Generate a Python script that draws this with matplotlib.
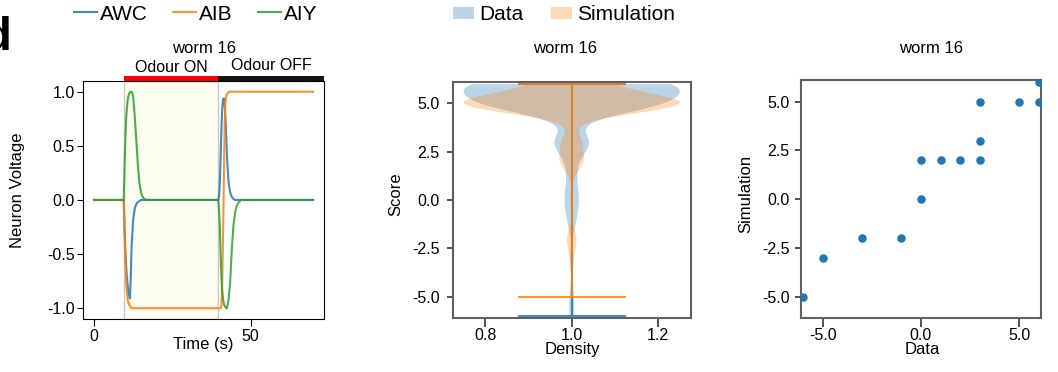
import numpy as np
import matplotlib
matplotlib.use("Agg")
import matplotlib.pyplot as plt
from matplotlib.patches import Rectangle, Patch
from matplotlib.transforms import blended_transform_factory

plt.rcParams['font.family'] = ['Liberation Sans', 'DejaVu Sans']
plt.rcParams['axes.unicode_minus'] = False

# ---- panel 1: simulated neuron traces
stim_on = 9.5
stim_off = 39.7
time_s = [0, 9.5, 9.75, 10.0, 10.25, 10.5, 10.75, 11.0, 11.25, 11.5, 11.75, 12.0,
          12.5, 13.0, 13.5, 14.0, 14.5, 15.0, 15.5, 16.0, 17.0,
          39.7, 40.0, 40.25, 40.5, 40.75, 41.0, 41.25, 41.5, 41.75, 42.0, 42.25,
          42.5, 43.0, 43.5, 44.0, 44.5, 45.0, 45.5, 46.0, 47.0, 70]
awc = [0, 0, -0.25, -0.45, -0.60, -0.71, -0.79, -0.85, -0.89, -0.91, -0.70, -0.43,
       -0.19, -0.08, -0.04, -0.02, -0.01, 0, 0, 0, 0,
       0, 0.05, 0.20, 0.45, 0.70, 0.86, 0.93, 0.94, 0.88, 0.76, 0.58,
       0.39, 0.16, 0.07, 0.03, 0.01, 0, 0, 0, 0, 0]
aib = [0, 0, -0.30, -0.56, -0.76, -0.86, -0.92, -0.95, -0.97, -0.98, -0.99, -1.0,
       -1.0, -1.0, -1.0, -1.0, -1.0, -1.0, -1.0, -1.0, -1.0,
       -1.0, -1.0, -1.0, -1.0, -0.97, -0.72, -0.28, 0.20, 0.72, 0.90, 0.96,
       0.98, 1.0, 1.0, 1.0, 1.0, 1.0, 1.0, 1.0, 1.0, 1.0]
aiy = [0, 0, 0.30, 0.55, 0.74, 0.85, 0.92, 0.96, 0.985, 0.995, 1.0, 1.0,
       0.96, 0.78, 0.56, 0.33, 0.16, 0.07, 0.03, 0.01, 0,
       0, -0.12, -0.30, -0.55, -0.74, -0.85, -0.92, -0.96, -0.98, -0.99, -1.0,
       -1.0, -0.92, -0.76, -0.47, -0.25, -0.13, -0.06, -0.03, 0, 0]

# ---- panels 2/3: score pairs (data, simulation) and how often each occurs
pair_data = [-6, -5, -3, -1, 0, 0, 1, 2, 3, 3, 3, 5, 6, 6]
pair_sim = [-5, -3, -2, -2, 0, 2, 2, 2, 2, 3, 5, 5, 5, 6]
pair_counts = [1, 1, 1, 2, 1, 2, 2, 2, 1, 6, 2, 40, 28, 18]

data_scores = np.repeat(pair_data, pair_counts)
sim_scores = np.repeat(pair_sim, pair_counts)

fig = plt.figure(figsize=(10.58, 3.72), dpi=100)
ax1 = fig.add_axes([0.0785, 0.1425, 0.2278, 0.640])
ax2 = fig.add_axes([0.4279, 0.1452, 0.2250, 0.634])
ax3 = fig.add_axes([0.7568, 0.1443, 0.2274, 0.6406])

# panel 1
ax1.axvspan(stim_on, stim_off, facecolor='#fdfcf0', edgecolor='#c9c9c0', lw=1, zorder=0)
l1, = ax1.plot(time_s, awc, color='C0', lw=1.5, alpha=0.85)
l2, = ax1.plot(time_s, aib, color='C1', lw=1.5, alpha=0.85)
l3, = ax1.plot(time_s, aiy, color='C2', lw=1.5, alpha=0.85)
ax1.set_xlim(-3.5, 73.5)
ax1.set_ylim(-1.1, 1.1)
ax1.set_xticks([0, 50])
ax1.set_yticks([-1.0, -0.5, 0.0, 0.5, 1.0])
ax1.set_yticklabels(['-1.0', '-0.5', '0.0', '0.5', '1.0'])
ax1.tick_params(axis='both', labelsize=11.5, width=0.8)
ax1.tick_params(axis='x', length=5, pad=2)
ax1.tick_params(axis='y', length=4, pad=2)
for s in ax1.spines.values():
    s.set_linewidth(0.8)
ax1.set_xlabel('Time (s)', fontsize=12)
ax1.xaxis.set_label_coords(0.5, -0.075)
ax1.set_ylabel('Neuron Voltage', fontsize=12)
ax1.yaxis.set_label_coords(-0.241, 0.539)
ax1.set_title('worm 16', fontsize=12, y=1.116, pad=0)

trans = blended_transform_factory(ax1.transData, ax1.transAxes)
ax1.add_patch(Rectangle((stim_on, 1.0), stim_off - stim_on, 0.022, transform=trans,
                        facecolor='#ff0000', edgecolor='none', clip_on=False))
ax1.add_patch(Rectangle((stim_off, 1.0), 73.5 - stim_off, 0.022, transform=trans,
                        facecolor='#1a1314', edgecolor='none', clip_on=False))
ax1.text((stim_on + stim_off) / 2, 1.039, 'Odour ON', transform=trans,
         ha='center', va='baseline', fontsize=11.5)
ax1.text((stim_off + 73.5) / 2, 1.046, 'Odour OFF', transform=trans,
         ha='center', va='baseline', fontsize=11.5)

# panel 2
spine_col = '#606060'
for scores, col in [(data_scores, 'C0'), (sim_scores, 'C1')]:
    parts = ax2.violinplot([scores], positions=[1], bw_method=0.26)
    for body in parts['bodies']:
        body.set_facecolor(col)
        body.set_edgecolor('none')
        body.set_alpha(0.3)
    for key in ['cmins', 'cmaxes', 'cbars']:
        parts[key].set_color(col)
        parts[key].set_linewidth(1.2)
ax2.set_xlim(0.725, 1.275)
ax2.set_ylim(-6.1, 6.1)
ax2.set_xticks([0.8, 1.0, 1.2])
ax2.set_xticklabels(['0.8', '1.0', '1.2'])
ax2.set_yticks([-5, -2.5, 0, 2.5, 5])
ax2.set_yticklabels(['-5.0', '-2.5', '0.0', '2.5', '5.0'])
ax2.tick_params(axis='both', labelsize=11.5, width=1.2, color='#333333')
ax2.tick_params(axis='x', length=6.5, pad=0.5)
ax2.tick_params(axis='y', length=4, pad=5.5)
ax2.set_xlabel('Density', fontsize=12)
ax2.xaxis.set_label_coords(0.503, -0.103)
ax2.set_ylabel('Score', fontsize=12)
ax2.yaxis.set_label_coords(-0.206, 0.525)
ax2.set_title('worm 16', fontsize=12, x=0.47, y=1.122, pad=0)

# panel 3
ax3.scatter(pair_data, pair_sim, s=26, color='C0', zorder=3)
ax3.set_xlim(-6.12, 6.12)
ax3.set_ylim(-6.1, 6.1)
ax3.set_xticks([-5, 0, 5])
ax3.set_xticklabels(['-5.0', '0.0', '5.0'])
ax3.set_yticks([-5, -2.5, 0, 2.5, 5])
ax3.set_yticklabels(['-5.0', '-2.5', '0.0', '2.5', '5.0'])
ax3.tick_params(axis='both', labelsize=11.5, width=1.2, color='#333333')
ax3.tick_params(axis='x', length=6.5, pad=0.5)
ax3.tick_params(axis='y', length=4, pad=4)
ax3.set_xlabel('Data', fontsize=12)
ax3.xaxis.set_label_coords(0.505, -0.098)
ax3.set_ylabel('Simulation', fontsize=12)
ax3.yaxis.set_label_coords(-0.196, 0.521)
ax3.set_title('worm 16', fontsize=12, x=0.541, y=1.112, pad=0)

for ax in (ax2, ax3):
    for s in ax.spines.values():
        s.set_color(spine_col)
        s.set_linewidth(1.5)

# legends
fig.legend([l1, l2, l3], ['AWC', 'AIB', 'AIY'], loc='center left',
           bbox_to_anchor=(0.070, 0.962), ncol=3, frameon=False, fontsize=15,
           handlelength=1.1, handletextpad=0.15, columnspacing=1.2,
           borderpad=0, borderaxespad=0)
fig.legend([Patch(facecolor='C0', alpha=0.3), Patch(facecolor='C1', alpha=0.3)],
           ['Data', 'Simulation'], loc='center left',
           bbox_to_anchor=(0.428, 0.960), ncol=2, frameon=False, fontsize=15,
           handlelength=1.0, handleheight=0.55, handletextpad=0.25,
           columnspacing=1.35, borderpad=0, borderaxespad=0)

fig.text(-0.017, 0.958, 'd', fontsize=34, fontweight='bold', ha='left', va='top')

fig.savefig('out.png', dpi=100)
